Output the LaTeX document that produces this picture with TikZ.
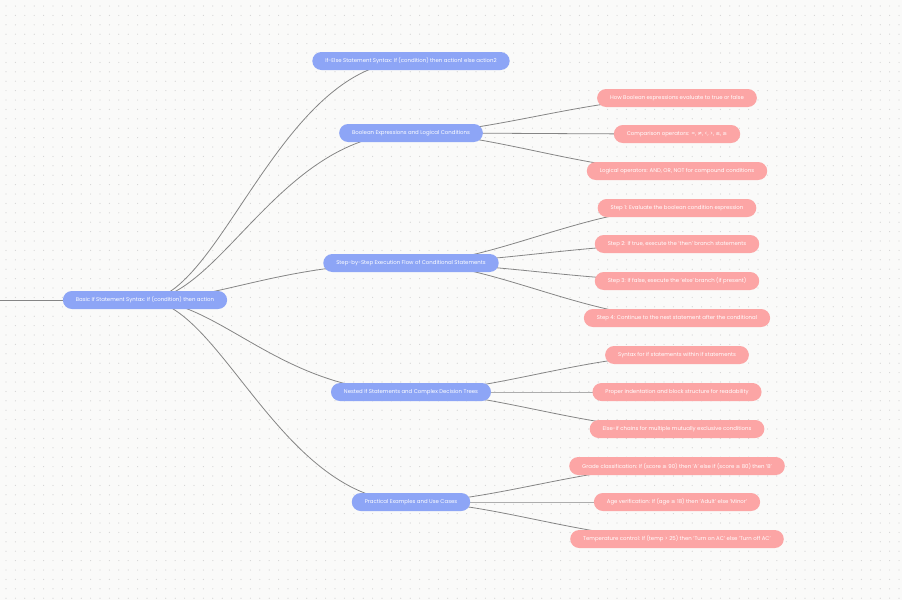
\documentclass[tikz,border=0pt]{standalone}
\usepackage{fontspec}
\setmainfont{Poppins}
\newfontfamily\symfont{DejaVu Sans}
\newcommand{\symb}[1]{{\symfont #1}}
\usetikzlibrary{backgrounds}
\definecolor{topicblue}{HTML}{8DA5F6}
\definecolor{leafpink}{HTML}{FCA5A5}
\definecolor{linegray}{HTML}{858585}
\definecolor{paper}{HTML}{FAFAF9}
\definecolor{dotgray}{HTML}{D4D4D4}

\begin{document}
\begin{tikzpicture}[x=1pt, y=-1pt,
  topic/.style={fill=topicblue, text=white, rounded corners=9pt,
    minimum height=18pt, inner xsep=13pt, inner ysep=0pt,
    font=\fontsize{5.4}{6.5}\selectfont},
  leaf/.style={topic, fill=leafpink},
  wire/.style={draw=linegray, line width=0.8pt},
]
% page and dot grid
\begin{scope}[on background layer]
\fill[paper] (0,0) rectangle (902,600);
\foreach \i in {0,...,95}
  \foreach \j in {0,...,63}
    \fill[dotgray] (6+\i*9.4, 6+\j*9.4) circle (0.6pt);
\end{scope}
\useasboundingbox (0,0) rectangle (902,600);

% root and topics
\coordinate (lft) at (0,300);
\node[topic] (root) at (145,300) {Basic If Statement Syntax: If (condition) then action};
\node[topic] (ifelse) at (411,61) {If-Else Statement Syntax: If (condition) then action1 else action2};
\node[topic] (boolean) at (411,133) {Boolean Expressions and Logical Conditions};
\node[topic] (steps) at (411,263) {Step-by-Step Execution Flow of Conditional Statements};
\node[topic] (nested) at (411,392) {Nested If Statements and Complex Decision Trees};
\node[topic] (practical) at (411,502) {Practical Examples and Use Cases};

% leaves
\node[leaf] (howbool) at (677,98) {How Boolean expressions evaluate to true or false};
\node[leaf] (compare) at (677,134) {Comparison operators: =, \symb{≠}, <, >, \symb{≤}, \symb{≥}};
\node[leaf] (logic) at (677,171) {Logical operators: AND, OR, NOT for compound conditions};
\node[leaf] (step1) at (677,208) {Step 1: Evaluate the boolean condition expression};
\node[leaf] (step2) at (677,244) {Step 2: If true, execute the 'then' branch statements};
\node[leaf] (step3) at (677,281) {Step 3: If false, execute the 'else' branch (if present)};
\node[leaf] (step4) at (677,318) {Step 4: Continue to the next statement after the conditional};
\node[leaf] (syntax) at (677,355) {Syntax for if statements within if statements};
\node[leaf] (indent) at (677,392) {Proper indentation and block structure for readability};
\node[leaf] (elseif) at (677,429) {Else-if chains for multiple mutually exclusive conditions};
\node[leaf] (grade) at (677,466) {Grade classification: If (score \symb{≥} 90) then 'A' else if (score \symb{≥} 80) then 'B'};
\node[leaf] (age) at (677,502) {Age verification: If (age \symb{≥} 18) then 'Adult' else 'Minor'};
\node[leaf] (temp) at (677,539) {Temperature control: If (temp > 25) then 'Turn on AC' else 'Turn off AC'};

% connectors
\begin{scope}[on background layer]
\draw[wire] (lft) -- (root.center);
\foreach \kid in {ifelse,boolean,steps,nested,practical}
  \draw[wire] (root.center) .. controls +(75,0) and +(-130,0) .. (\kid.center);
\foreach \kid in {howbool,compare,logic}
  \draw[wire] (boolean.center) .. controls +(80,0) and +(-90,0) .. (\kid.center);
\foreach \kid in {step1,step2,step3,step4}
  \draw[wire] (steps.center) .. controls +(80,0) and +(-90,0) .. (\kid.center);
\foreach \kid in {syntax,indent,elseif}
  \draw[wire] (nested.center) .. controls +(80,0) and +(-90,0) .. (\kid.center);
\foreach \kid in {grade,age,temp}
  \draw[wire] (practical.center) .. controls +(80,0) and +(-90,0) .. (\kid.center);
\end{scope}
\end{tikzpicture}
\end{document}
